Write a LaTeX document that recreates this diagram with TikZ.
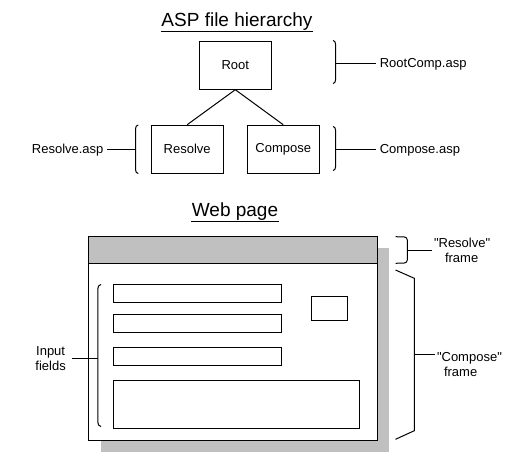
\documentclass[tikz,border=0pt]{standalone}
\usepackage{fontspec}
\setmainfont{Liberation Sans}
\usetikzlibrary{positioning}
\definecolor{framegray}{RGB}{192,192,192}
\tikzstyle{asp layout}=[
    x=1pt,y=-1pt,line width=1pt,node distance=4pt,
    every node/.style={
        font=\fontsize{13}{15}\selectfont,
    },
    file/.style={
        draw,rectangle,minimum width=72pt,minimum height=48pt,
    },
    field/.style={
        draw,rectangle,inner sep=0pt,
    },
    heading/.style={
        font=\fontsize{19}{22}\selectfont,inner sep=0pt,anchor=base,
    },
    note/.style={
        align=left,inner sep=1.5pt,
}]
\newcommand{\underheading}[1]{\draw ([yshift=-4.3pt]#1.base west) -- ([yshift=-4.3pt]#1.base east);}
\newcommand{\framename}[1]{\textquotedbl#1\textquotedbl}

\begin{document}
\begin{tikzpicture}[asp layout]
        \useasboundingbox (0,0) rectangle (529,454);

        \node[heading] (asptitle) at (237,27) {ASP file hierarchy};
        \underheading{asptitle}
        \node[file] (root) at (235.3,65.2) {Root};
        \node[file] (resolve) at (187.2,149.2) {Resolve};
        \node[file, right=23pt of resolve] (compose) {Compose};

        \path
            (root.south) edge (resolve.north)
            (root.south) edge (compose.north)
        ;

        \coordinate (rootbr) at (335.5,64);
        \draw (333,40.5) to[out=0,in=90] (335.5,44) -- (335.5,80) to[out=-90,in=0] (333,83.5);
        \node[right=40.5pt of rootbr] (rootlbl) {RootComp.asp};
        \draw (rootbr) -- (rootlbl);

        \coordinate (resolvebr) at (135.6,150);
        \draw (138.3,125) to[out=180,in=90] (135.6,128.5) -- (135.6,170) to[out=-90,in=180] (138.3,173.5);
        \node[left=28.3pt of resolvebr] (resolvelbl) {Resolve.asp};
        \draw (resolvebr) -- (resolvelbl);

        \coordinate (composebr) at (335.5,150);
        \draw (333,126.5) to[out=0,in=90] (335.5,130) -- (335.5,167) to[out=-90,in=0] (333,170.5);
        \node[right=40.5pt of composebr] (composelbl) {Compose.asp};
        \draw (composebr) -- (composelbl);

        \node[heading] (webtitle) at (235,216.7) {Web page};
        \underheading{webtitle}

        \fill[framegray] (100.5,247.7) rectangle (388.7,452);
        \node[draw, fill=white, minimum width=288.5pt, minimum height=204pt] (page) at (233.2,338) {};
        \node[draw, fill=framegray, minimum width=288.5pt, minimum height=27.3pt, anchor=north] (titlebar) at (page.north) {};

        \node[field, minimum width=168.7pt, minimum height=18pt] (field1) at (197.4,293.3) {};
        \node[field, minimum width=168.7pt, minimum height=18pt, below=11pt of field1] (field2) {};
        \node[field, minimum width=168.7pt, minimum height=18pt, below=14pt of field2] (field3) {};
        \node[field, minimum width=246.3pt, minimum height=48pt, below=14pt of field3.south west, anchor=north west] (message) {};
        \node[field, minimum width=36.5pt, minimum height=23.7pt] (button) at (329.3,308.2) {};

        \coordinate (inputbr) at (97.8,358.3);
        \draw (101,284.5) to[out=180,in=90] (97.8,289) -- (97.8,422) to[out=-90,in=180] (101,426.5);
        \node[note, align=center, inner sep=6pt, left=25.5pt of inputbr] (inputlbl) {Input\\fields};
        \draw (inputbr) -- (inputlbl);

        \coordinate (rframebr) at (407.3,250.7);
        \draw (395.7,236.7) -- (404.3,237) to[out=0,in=90] (407.3,240) -- (407.3,260) to[out=-90,in=0] (404.3,263) -- (395.7,263.3);
        \node[note, right=24.7pt of rframebr] (rframelbl) {\framename{Resolve}\\\hspace*{11pt}frame};
        \draw (rframebr) -- (rframelbl);

        \coordinate (cframebr) at (414.3,354.3);
        \draw (395.5,270) -- (414.3,278.3) -- (414.3,430.7) -- (395.5,439.3);
        \node[note, right=20.7pt of cframebr, yshift=-10pt] (cframelbl) {\framename{Compose}\\\hspace*{7pt}frame};
        \draw (cframebr) -- (cframebr -| cframelbl.west);
    \end{tikzpicture}
\end{document}
